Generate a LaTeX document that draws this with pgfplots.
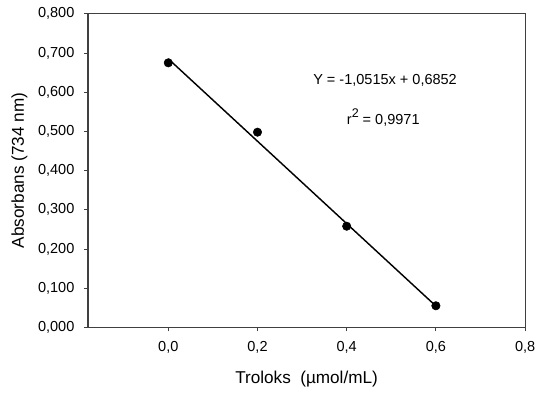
\documentclass[border=0pt]{standalone}
\usepackage{fontspec}
\setmainfont{Liberation Sans}
\usepackage{pgfplots}
\pgfplotsset{compat=1.18}
\begin{document}
\fontsize{11}{13}\selectfont
\begin{tikzpicture}
\begin{axis}[
  scale only axis,
  width=331.5pt, height=237.75pt,
  xmin=-0.18, xmax=0.8,
  ymin=0, ymax=0.8,
  xtick={0,0.2,0.4,0.6,0.8},
  ytick={0,0.1,0.2,0.3,0.4,0.5,0.6,0.7,0.8},
  tick pos=left,
  tick align=outside,
  major tick length=3pt,
  axis line style={black!75, line width=0.8pt},
  tick style={black!75, line width=0.6pt},
  /pgf/number format/assume math mode=true,
  /pgf/number format/use comma,
  x tick label style={/pgf/number format/fixed, /pgf/number format/fixed zerofill, /pgf/number format/precision=1, anchor=center, yshift=-12.5pt},
  y tick label style={/pgf/number format/fixed, /pgf/number format/fixed zerofill, /pgf/number format/precision=3, xshift=-3.5pt},
  xlabel={\fontsize{13}{15}\selectfont Troloks\ \ (µmol/mL)},
  ylabel={\fontsize{13}{15}\selectfont Absorbans (734 nm)},
  xlabel style={at={(axis description cs:0.5,0)}, anchor=center, yshift=-39.5pt},
  ylabel style={at={(axis description cs:0,0.5)}, anchor=center, yshift=52pt},
  clip=false,
]
\addplot[black, line width=1.1pt] coordinates {(0,0.6852) (0.6,0.0543)};
\addplot[only marks, mark=*, mark size=3.2pt, black] coordinates {
  (0,0.675) (0.2,0.498) (0.4,0.258) (0.6,0.055)};
\node at (axis cs:0.486,0.629) {Y = -1,0515x + 0,6852};
\node at (axis cs:0.482,0.535) {r\raisebox{0.45em}{\fontsize{9.5}{11}\selectfont 2} = 0,9971};
\end{axis}
\path ([xshift=-66.75pt, yshift=-47.25pt]current axis.south west) rectangle ([xshift=6.75pt, yshift=10.5pt]current axis.north east);
\end{tikzpicture}
\end{document}
